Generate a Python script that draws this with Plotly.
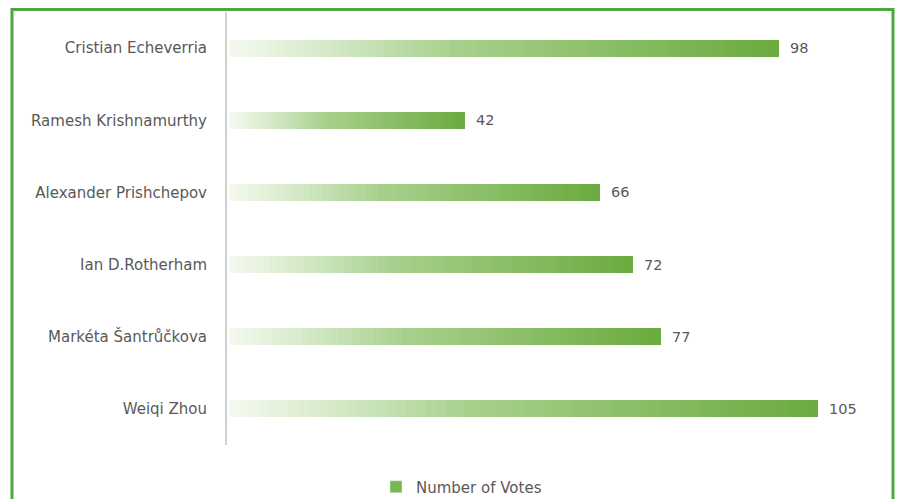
import plotly.graph_objects as go

candidates = ["Cristian Echeverria", "Ramesh Krishnamurthy", "Alexander Prishchepov",
              "Ian D.Rotherham", "Markéta Šantrůčkova", "Weiqi Zhou"]
votes = [98, 42, 66, 72, 77, 105]
series_name = "Number of Votes"

# gradient stops (fraction of bar length -> colour)
stops = [(0.0, (244, 249, 240)), (0.22, (205, 229, 190)), (0.40, (169, 209, 142)), (1.0, (106, 170, 62))]

def grad_color(t):
    for (t0, c0), (t1, c1) in zip(stops[:-1], stops[1:]):
        if t <= t1:
            f = (t - t0) / (t1 - t0)
            c = [round(a + (b - a) * f) for a, b in zip(c0, c1)]
            return "rgb(%d,%d,%d)" % tuple(c)
    return "rgb(%d,%d,%d)" % stops[-1][1]

FONT = "DejaVu Sans"
FS = 15
TXT = "#595959"
N = 60
W, H = 899, 499
ml, mr, mt, mb = 227, 19, 12, H - 445
pw, ph = W - ml - mr, H - mt - mb
PX_PER_UNIT = 5.6

def px_x(x):  # pixel x -> paper
    return (x - ml) / pw

def px_y(y):  # pixel y -> paper
    return (H - mb - y) / ph

fig = go.Figure()
for k in range(N):
    fig.add_trace(go.Bar(
        y=candidates, x=[v / N for v in votes], orientation="h",
        marker=dict(color=grad_color((k + 0.5) / N), line=dict(width=0)),
        width=0.235, showlegend=False, hoverinfo="skip",
    ))

# legend entry
fig.add_trace(go.Bar(y=[None], x=[None], orientation="h", name=series_name,
                     marker=dict(color="rgb(120,184,80)"), showlegend=True))

annotations = [dict(x=v, y=c, xref="x", yref="y", text=str(v), showarrow=False,
                    xanchor="left", yanchor="middle", xshift=9,
                    font=dict(family=FONT, size=FS - 0.5, color=TXT))
               for c, v in zip(candidates, votes)]

fig.update_layout(
    width=W, height=H, barmode="stack", bargap=0,
    margin=dict(l=ml, r=mr, t=mt, b=mb, autoexpand=False),
    paper_bgcolor="white", plot_bgcolor="white",
    font=dict(family=FONT, size=FS, color=TXT),
    xaxis=dict(range=[-3 / PX_PER_UNIT, (pw - 3) / PX_PER_UNIT], visible=False, fixedrange=True),
    yaxis=dict(autorange="reversed", showline=True, linecolor="#d0d0d0", linewidth=2,
               showgrid=False, zeroline=False, ticks="", ticklabelstandoff=15,
               tickfont=dict(family=FONT, size=FS, color=TXT)),
    legend=dict(orientation="h", x=px_x(376), xanchor="left",
                y=px_y(487), yanchor="middle",
                font=dict(family=FONT, size=FS, color=TXT)),
    annotations=annotations,
    shapes=[dict(type="rect", xref="paper", yref="paper",
                 x0=px_x(12), x1=px_x(893),
                 y0=px_y(530), y1=px_y(9.5),
                 line=dict(color="#4aa83c", width=3), fillcolor="rgba(0,0,0,0)", layer="above")],
)

fig.write_html("out.html", config={"displayModeBar": False},
               post_script="document.body.style.margin='0';document.body.style.overflow='hidden';")
